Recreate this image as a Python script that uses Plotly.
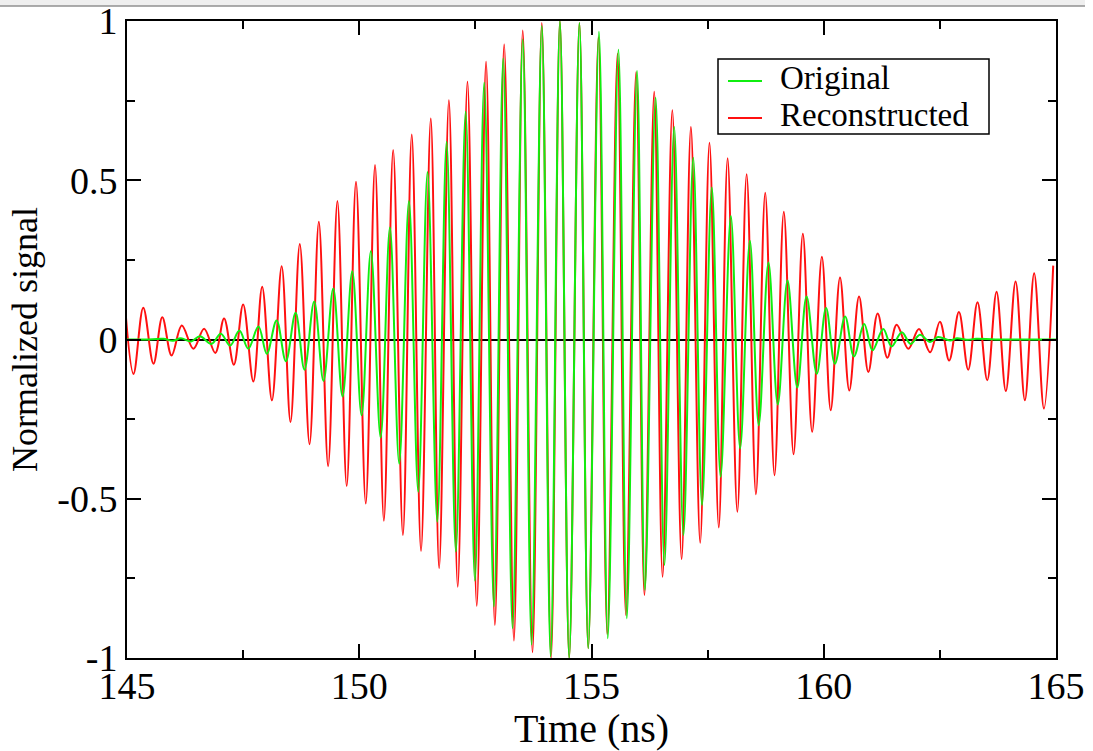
import plotly.graph_objects as go

# ---------------- data ----------------
# Reconstructed signal: local maxima (time in ns, normalized value)
red_peak_t = [144.95, 145.35, 145.76, 146.18, 146.66, 147.09, 147.50, 147.91, 148.33, 148.72,
              149.13, 149.53, 149.93, 150.34, 150.73, 151.13, 151.54, 151.93, 152.33, 152.73,
              153.12, 153.52, 153.93, 154.32, 154.74, 155.15, 155.56, 155.96, 156.35, 156.74,
              157.14, 157.54, 157.93, 158.34, 158.74, 159.14, 159.55, 159.96, 160.35, 160.76,
              161.16, 161.57, 162.05, 162.50, 162.91, 163.31, 163.72, 164.13, 164.53, 164.94]
red_peak_v = [0.12, 0.10, 0.07, 0.044, 0.034, 0.066, 0.11, 0.166, 0.23, 0.30,
              0.37, 0.435, 0.495, 0.548, 0.595, 0.644, 0.694, 0.751, 0.809, 0.872,
              0.926, 0.970, 0.994, 1.0, 0.994, 0.949, 0.897, 0.839, 0.778, 0.72,
              0.667, 0.618, 0.569, 0.519, 0.461, 0.401, 0.332, 0.26, 0.195, 0.135,
              0.082, 0.046, 0.033, 0.056, 0.086, 0.117, 0.15, 0.182, 0.208, 0.232]
# Reconstructed signal: local minima
red_trough_t = [145.14, 145.57, 145.96, 146.43, 146.90, 147.30, 147.72, 148.12, 148.52, 148.93,
                149.33, 149.73, 150.14, 150.53, 150.94, 151.33, 151.72, 152.12, 152.53, 152.92,
                153.33, 153.73, 154.13, 154.52, 154.93, 155.34, 155.74, 156.14, 156.53, 156.94,
                157.34, 157.74, 158.14, 158.54, 158.94, 159.35, 159.75, 160.15, 160.55, 160.96,
                161.37, 161.82, 162.29, 162.70, 163.11, 163.52, 163.92, 164.33, 164.74]
red_trough_v = [-0.108, -0.076, -0.05, -0.029, -0.042, -0.079, -0.132, -0.191, -0.259, -0.329,
                -0.398, -0.46, -0.515, -0.569, -0.614, -0.664, -0.718, -0.776, -0.836, -0.896,
                -0.945, -0.982, -1.0, -1.0, -0.969, -0.925, -0.865, -0.802, -0.745, -0.69,
                -0.638, -0.59, -0.541, -0.486, -0.426, -0.36, -0.29, -0.222, -0.16, -0.102,
                -0.057, -0.029, -0.04, -0.066, -0.095, -0.128, -0.162, -0.191, -0.217]

# Original signal: local maxima
green_peak_t = [145.78, 146.16, 146.57, 147.02, 147.42, 147.83, 148.22, 148.63, 149.03, 149.44,
                149.85, 150.25, 150.66, 151.07, 151.47, 151.88, 152.29, 152.69, 153.10, 153.52,
                153.93, 154.32, 154.74, 155.16, 155.58, 155.98, 156.38, 156.78, 157.19, 157.59,
                158.00, 158.41, 158.81, 159.22, 159.63, 160.05, 160.46, 160.87, 161.28, 161.68,
                162.07, 162.46, 162.87, 163.28]
green_peak_v = [0.002, 0.004, 0.01, 0.018, 0.028, 0.041, 0.06, 0.084, 0.119, 0.16,
                0.214, 0.277, 0.352, 0.435, 0.526, 0.621, 0.715, 0.806, 0.882, 0.942,
                0.984, 1.0, 0.994, 0.966, 0.91, 0.843, 0.759, 0.667, 0.571, 0.477,
                0.388, 0.31, 0.242, 0.185, 0.135, 0.099, 0.072, 0.049, 0.033, 0.023,
                0.015, 0.008, 0.004, 0.002]
# Original signal: local minima
green_trough_t = [145.99, 146.38, 146.82, 147.22, 147.61, 148.01, 148.42, 148.82, 149.23, 149.64,
                  150.05, 150.46, 150.86, 151.27, 151.68, 152.08, 152.49, 152.90, 153.30, 153.71,
                  154.12, 154.52, 154.93, 155.35, 155.76, 156.15, 156.57, 156.98, 157.38, 157.78,
                  158.20, 158.60, 159.01, 159.43, 159.85, 160.24, 160.65, 161.05, 161.46, 161.87,
                  162.29, 162.72, 163.08]
green_trough_v = [-0.004, -0.006, -0.014, -0.019, -0.029, -0.045, -0.068, -0.095, -0.13, -0.179,
                  -0.238, -0.308, -0.39, -0.478, -0.572, -0.666, -0.757, -0.838, -0.906, -0.958,
                  -0.995, -1.0, -0.969, -0.938, -0.875, -0.786, -0.708, -0.614, -0.52, -0.431,
                  -0.342, -0.269, -0.204, -0.151, -0.108, -0.076, -0.053, -0.034, -0.022, -0.014,
                  -0.008, -0.003, -0.001]
# Original signal: flat (quiet) stretches at both ends
green_flat_t = [145.0, 145.4, 163.7, 165.0]
green_flat_v = [0.0, 0.0, 0.0, 0.0]

series_names = ["Original", "Reconstructed"]
series_colors = ["#10ee10", "#ff1010"]

x_tickvals = [145, 150, 155, 160, 165]
x_ticktext = ["145", "150", "155", "160", "165"]
y_tickvals = [-1, -0.5, 0, 0.5, 1]
y_ticktext = ["-1", "-0.5", "0", "0.5", "1"]


def merge(*pairs):
    pts = []
    for t, v in pairs:
        pts.extend(zip(t, v))
    pts.sort(key=lambda p: p[0])
    return [p[0] for p in pts], [p[1] for p in pts]


red_t, red_v = merge((red_peak_t, red_peak_v), (red_trough_t, red_trough_v))
green_t, green_v = merge((green_peak_t, green_peak_v), (green_trough_t, green_trough_v),
                         (green_flat_t, green_flat_v))

FONT = "Liberation Serif"
TOP, BOTTOM = 21, 93
PLOT_H = 751 - TOP - BOTTOM
PLOT_L, PLOT_W = 127, 1093 - 127 - 37


def px(xp):
    return (xp - PLOT_L) / PLOT_W


def py(yp):
    return (751 - BOTTOM - yp) / PLOT_H


fig = go.Figure()
fig.add_trace(go.Scatter(x=red_t, y=red_v, mode="lines", name=series_names[1],
                         line=dict(color=series_colors[1], width=2, shape="spline", smoothing=1.0),
                         showlegend=False))
fig.add_trace(go.Scatter(x=green_t, y=green_v, mode="lines", name=series_names[0],
                         line=dict(color=series_colors[0], width=2, shape="spline", smoothing=1.0),
                         showlegend=False))

axis_common = dict(
    ticks="inside", ticklen=14, tickwidth=1.5, tickcolor="black",
    showline=True, linecolor="black", linewidth=2, mirror="allticks",
    showgrid=False, automargin=False, ticklabeloverflow="allow",
    tickfont=dict(family=FONT, size=38, color="black"),
)

# legend box drawn in xmgrace style (box, short line samples, labels)
row_px = [78, 115]
shapes = [
    dict(type="rect", xref="paper", yref="paper", x0=px(-10), x1=px(1085),
         y0=py(6), y1=py(0), fillcolor="#efefef", line=dict(width=0), layer="below"),
    dict(type="line", xref="paper", yref="paper", x0=px(-10), x1=px(1085),
         y0=py(6), y1=py(6), line=dict(color="#909090", width=1.5)),
    dict(type="rect", xref="paper", yref="paper", x0=px(718), x1=px(989), y0=py(134), y1=py(59),
         fillcolor="white", line=dict(color="black", width=1.5), layer="above"),
]
annotations = []
for name, color, yp in zip(series_names, series_colors, row_px):
    shapes.append(dict(type="line", xref="paper", yref="paper", x0=px(728), x1=px(762),
                       y0=py(yp + 3), y1=py(yp + 3), line=dict(color=color, width=2),
                       layer="above"))
    annotations.append(dict(text=name, xref="paper", yref="paper", x=px(778), y=py(yp),
                            xanchor="left", yanchor="middle", showarrow=False,
                            font=dict(family=FONT, size=33, color="black")))

fig.update_layout(
    width=1093, height=751,
    template="none",
    margin=dict(l=PLOT_L, r=37, t=TOP, b=BOTTOM),
    paper_bgcolor="white", plot_bgcolor="white",
    font=dict(family=FONT, color="black"),
    showlegend=False,
    xaxis=dict(range=[145, 165], tickmode="array", tickvals=x_tickvals, ticktext=x_ticktext,
               zeroline=False, ticklabelstandoff=-7,
               minor=dict(tickmode="linear", tick0=145, dtick=2.5, ticks="inside", ticklen=8,
                          tickwidth=1.5, tickcolor="black", showgrid=False),
               title=dict(text="Time (ns)", font=dict(family=FONT, size=40, color="black"),
                          standoff=0),
               **axis_common),
    yaxis=dict(range=[-1, 1], tickmode="array", tickvals=y_tickvals, ticktext=y_ticktext,
               zeroline=True, zerolinecolor="black", zerolinewidth=1.5,
               minor=dict(tickmode="linear", tick0=-1, dtick=0.25, ticks="inside", ticklen=8,
                          tickwidth=1.5, tickcolor="black", showgrid=False),
               title=dict(text="Normalized signal", font=dict(family=FONT, size=36, color="black"),
                          standoff=9),
               **axis_common),
    shapes=shapes,
    annotations=annotations,
)

fig.write_html("out.html")
